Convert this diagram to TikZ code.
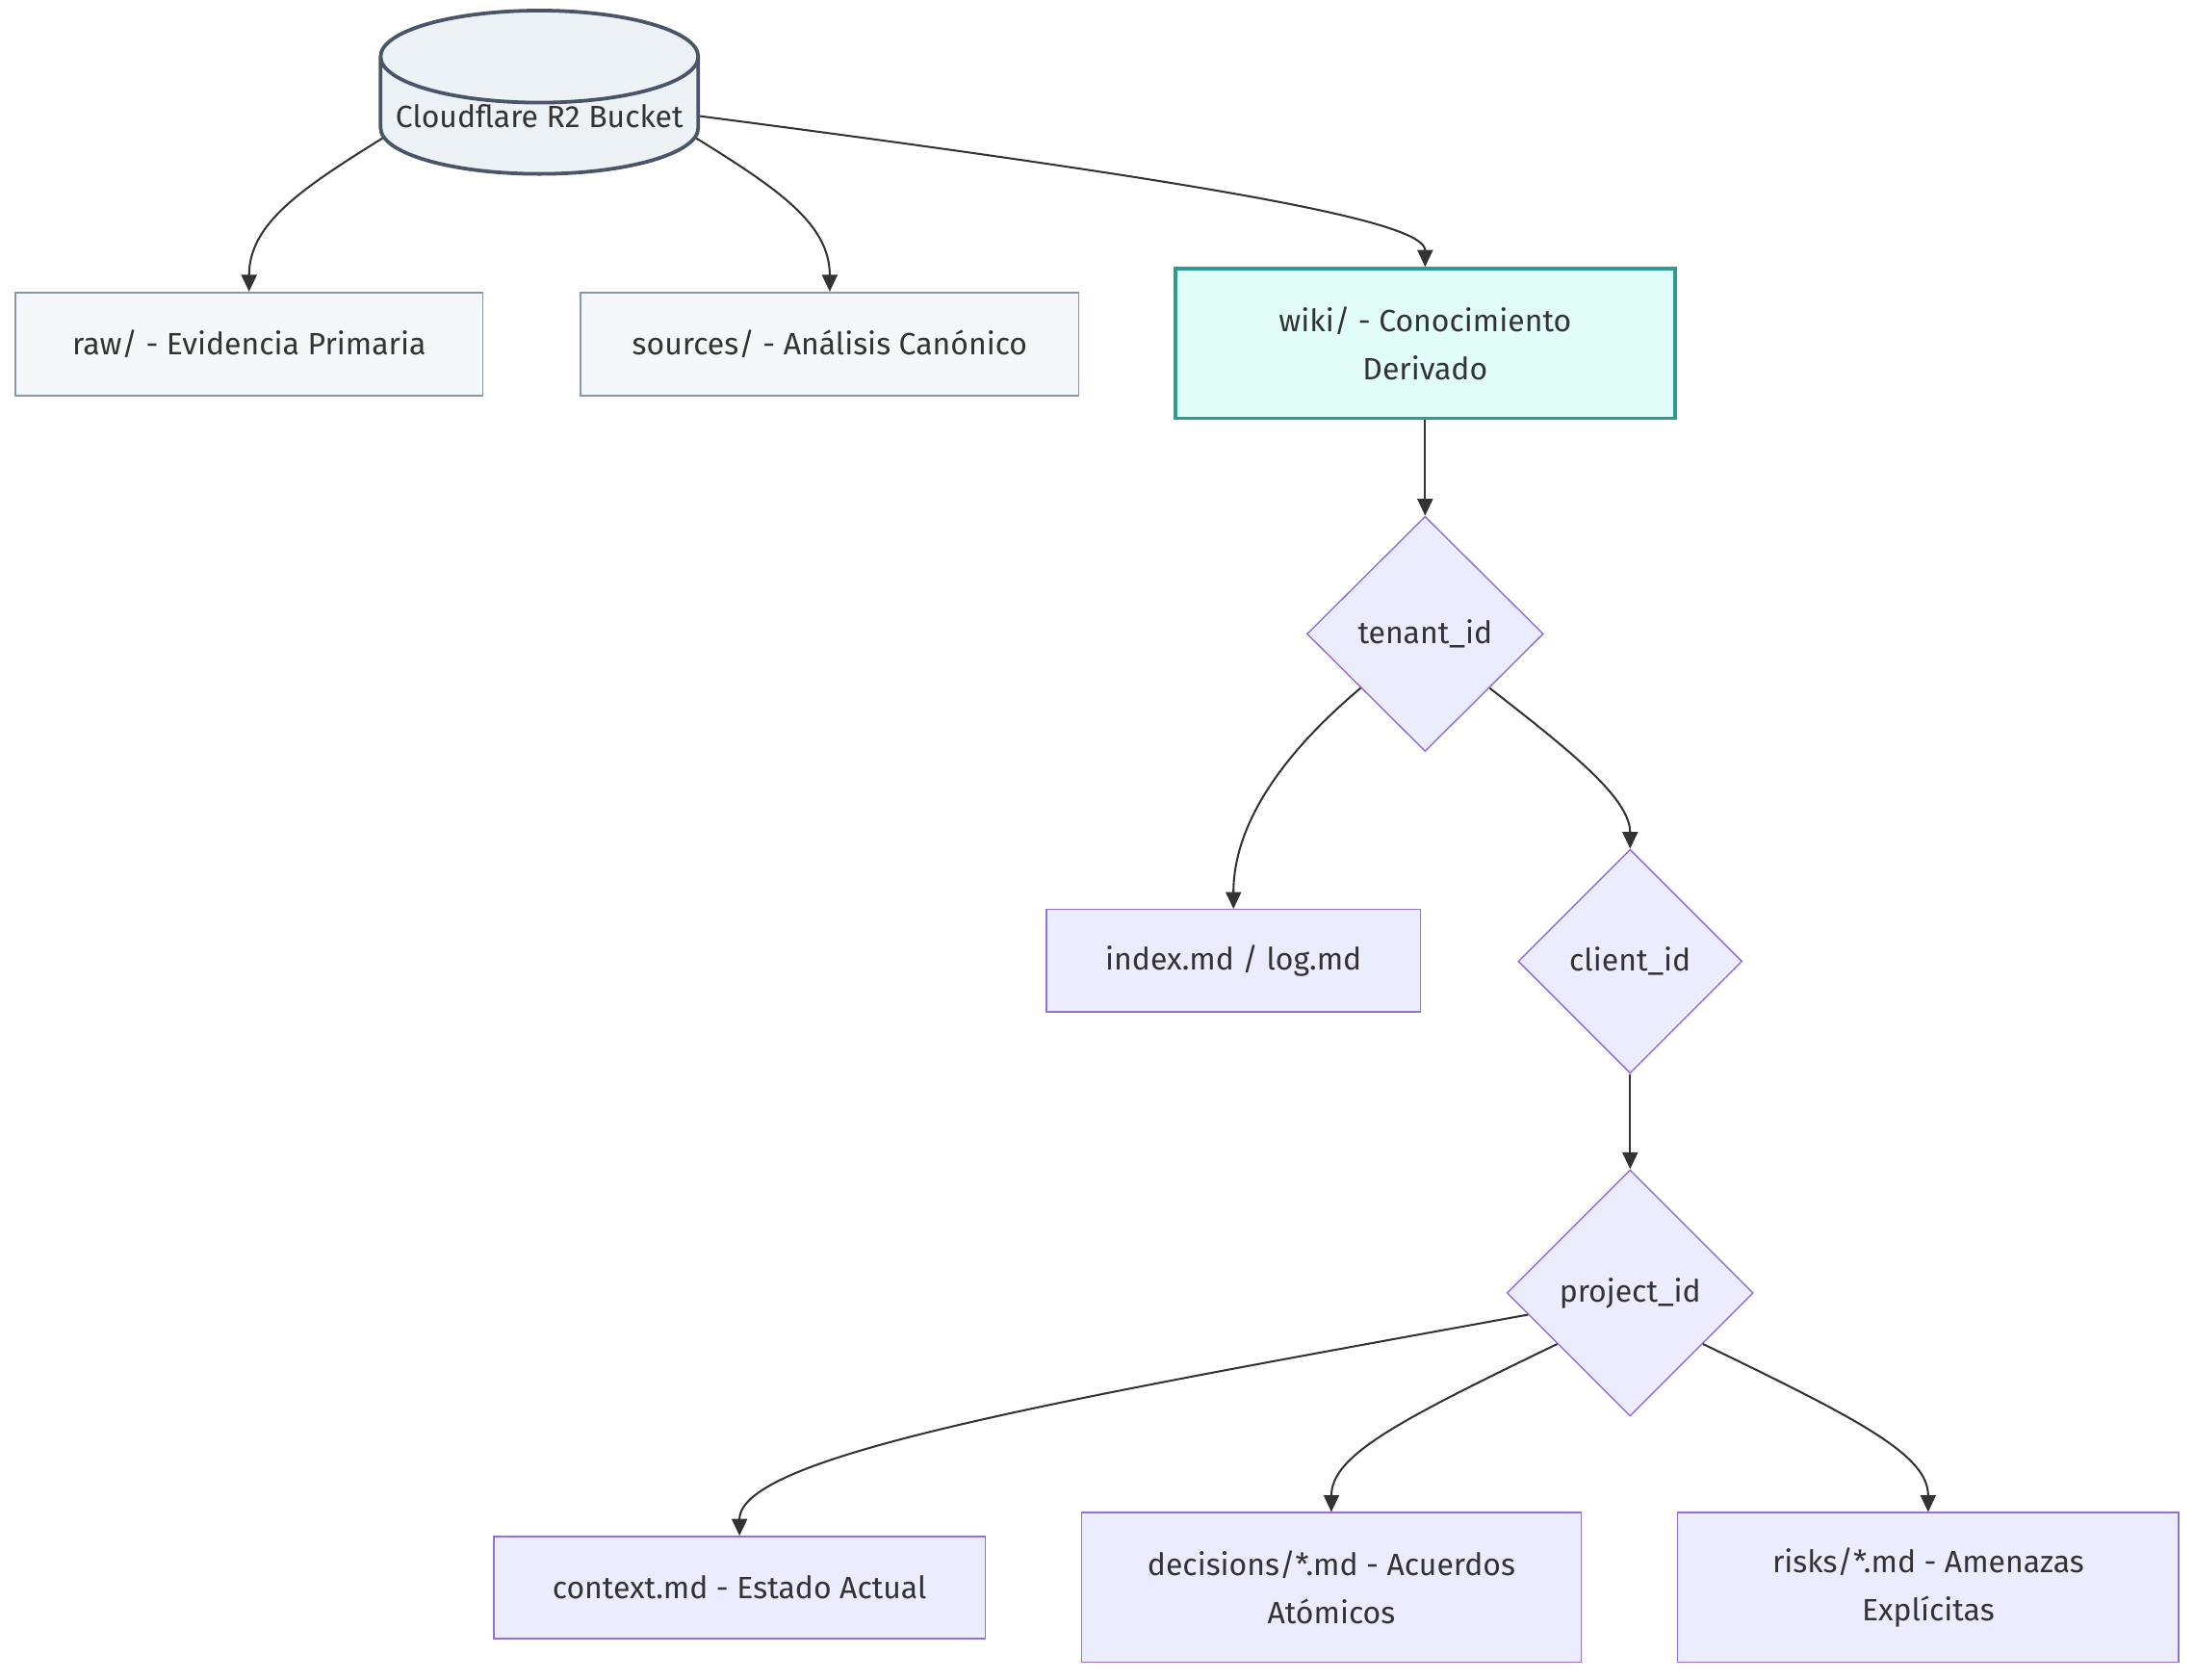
\documentclass[tikz,border=0pt]{standalone}
\usepackage{fontspec}
\setmainfont{Fira Sans}
\usetikzlibrary{arrows.meta,shapes.geometric}
\definecolor{edgec}{HTML}{333333}
\definecolor{txtc}{HTML}{333333}
\definecolor{slate}{HTML}{4A5568}
\definecolor{slatebg}{HTML}{EDF2F7}
\definecolor{greyb}{HTML}{8A96AE}
\definecolor{greybg}{HTML}{F5F8FB}
\definecolor{teal}{HTML}{2E9A94}
\definecolor{tealbg}{HTML}{E1FFF8}
\definecolor{purp}{HTML}{9370DB}
\definecolor{lav}{HTML}{ECECFF}
\newcommand{\lblfont}{\fontsize{11}{17}\selectfont}
\tikzset{
  lnk/.style={-{Triangle[length=6pt,width=5.5pt]},line width=0.7pt,draw=edgec},
  store/.style={cylinder,shape border rotate=90,aspect=0.32,draw=slate,fill=slatebg,
    line width=1.3pt,minimum width=113.5pt,minimum height=56pt,inner sep=0pt,text=txtc,font=\lblfont},
  dirbox/.style={rectangle,draw=greyb,fill=greybg,line width=0.6pt,minimum height=37pt,
    inner sep=0pt,text=txtc,font=\lblfont},
  wikibox/.style={rectangle,draw=teal,fill=tealbg,line width=1.3pt,minimum width=178.5pt,
    minimum height=53.5pt,inner sep=0pt,align=center,text=txtc,font=\lblfont},
  keyd/.style={diamond,draw=purp,fill=lav,line width=0.5pt,inner sep=0pt,text=txtc,font=\lblfont}, % key level
  filebox/.style={rectangle,draw=purp,fill=lav,line width=0.5pt,inner sep=0pt,align=center,
    text=txtc,font=\lblfont},
}
\begin{document}
\begin{tikzpicture}[x=0.5pt,y=-0.5pt]
  \useasboundingbox (0,0) rectangle (1568,1200);
  % storage and top folders
  \node[store] (bucket) at (385.5,83) {Cloudflare R2 Bucket};
  \node[dirbox,minimum width=167pt] (raw) at (178,246) {raw/ - Evidencia Primaria};
  \node[dirbox,minimum width=178pt] (src) at (593,246) {sources/ - Análisis Canónico};
  \node[wikibox] (wiki) at (1018.5,245.5) {wiki/ - Conocimiento\\Derivado};
  % key hierarchy
  \node[keyd,minimum width=84.5pt,minimum height=84pt] (tenant) at (1018.5,453) {tenant\_id};
  \node[filebox,minimum width=133.5pt,minimum height=36.5pt] (idx) at (881.5,686.5) {index.md / log.md};
  \node[keyd,minimum width=80pt,minimum height=80pt] (client) at (1165,687) {client\_id};
  \node[keyd,minimum width=88pt,minimum height=88pt] (proj) at (1165,924) {project\_id};
  % project files
  \node[filebox,minimum width=175.5pt,minimum height=36.5pt] (ctx) at (528.5,1134.5) {context.md - Estado Actual};
  \node[filebox,minimum width=178.5pt,minimum height=53.5pt] (dec) at (951.5,1134.5) {decisions/*.md - Acuerdos\\Atómicos};
  \node[filebox,minimum width=179pt,minimum height=53.5pt] (risk) at (1378,1134.5) {risks/*.md - Amenazas\\Explícitas};
  % connectors
  \draw[lnk] (bucket.188) .. controls (215,135) and (178,160) .. (raw.north);
  \draw[lnk] (bucket.352) .. controls (556,135) and (593,160) .. (src.north);
  \draw[lnk] (bucket.east) .. controls (900,135) and (1018.5,160) .. (wiki.north);
  \draw[lnk] (wiki.south) -- (tenant.north);
  \draw[lnk] (tenant.220) .. controls (915,540) and (881.5,590) .. (idx.north);
  \draw[lnk] (tenant.320) .. controls (1120,535) and (1165,570) .. (client.north);
  \draw[lnk] (client.south) -- (proj.north);
  \draw[lnk] (proj.192) .. controls (760,1000) and (528.5,1040) .. (ctx.north);
  \draw[lnk] (proj.215) .. controls (1000,1015) and (951.5,1040) .. (dec.north);
  \draw[lnk] (proj.325) .. controls (1330,1015) and (1378,1040) .. (risk.north);
\end{tikzpicture}
\end{document}
